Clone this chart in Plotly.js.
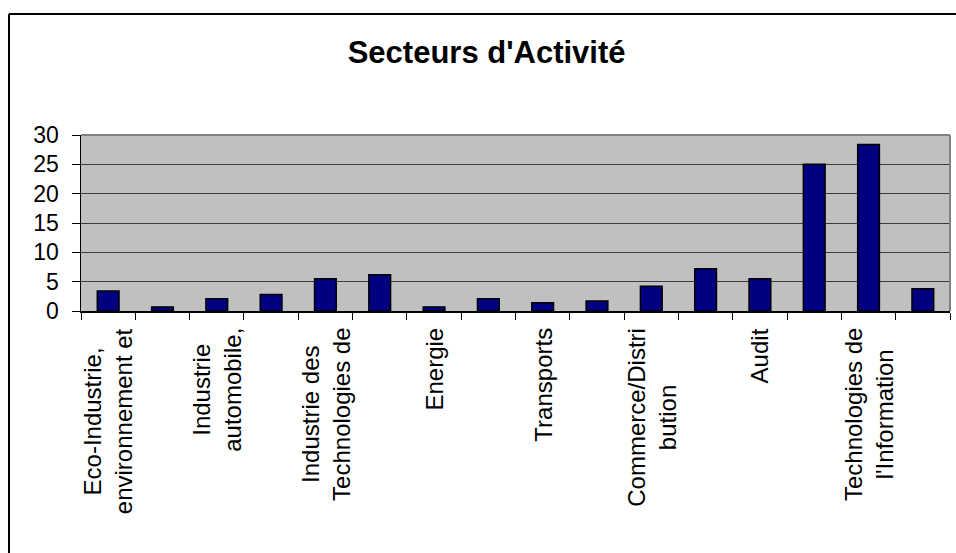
<!DOCTYPE html>
<html>
<head>
<meta charset="utf-8">
<script src="https://cdn.plot.ly/plotly-3.0.1.min.js"></script>
<style>html,body{margin:0;padding:0;background:#fff;}#chart{width:956px;height:553px;}</style>
</head>
<body>
<div id="chart"></div>
<script>
// Data
const chartTitle = "Secteurs d'Activité";
const tickLabels = [
  "Eco-Industrie,<br>environnement et", "",
  "Industrie<br>automobile,", "",
  "Industrie des<br>Technologies de", "",
  "Energie", "",
  "Transports", "",
  "Commerce/Distri<br>bution", "",
  "Audit", "",
  "Technologies de<br>l'Information", ""
];
const values = [3.4, 0.7, 2.1, 2.8, 5.5, 6.2, 0.7, 2.1, 1.4, 1.7, 4.2, 7.2, 5.5, 25.0, 28.4, 3.8];
const yTicks = [0, 5, 10, 15, 20, 25, 30];

const positions = values.map((v, i) => i);

const FONT = "'Liberation Sans', Arial, sans-serif";

const trace = {
  type: 'bar',
  x: positions,
  y: values,
  marker: {color: '#000080', line: {color: '#000000', width: 1.5}},
  hoverinfo: 'skip'
};

const annotations = [];
tickLabels.forEach((t, i) => {
  if (!t) return;
  annotations.push({
    x: positions[i], xref: 'x',
    y: 0, yref: 'paper',
    yshift: -16,
    text: t,
    textangle: -90,
    showarrow: false,
    xanchor: 'center', yanchor: 'top',
    align: 'center',
    borderpad: 0,
    font: {family: FONT, size: 24, color: '#000'}
  });
});

const layout = {
  width: 956, height: 553,
  margin: {l: 81, r: 6, t: 135, b: 242},
  paper_bgcolor: '#ffffff',
  plot_bgcolor: '#c0c0c0',
  showlegend: false,
  bargap: 0.6,
  title: {
    text: '<b>' + chartTitle + '</b>',
    font: {family: FONT, size: 31, color: '#000'},
    x: 0.509, xref: 'container', xanchor: 'center',
    y: 1 - 52 / 553, yref: 'container', yanchor: 'middle'
  },
  xaxis: {
    type: 'linear',
    range: [-0.5, values.length - 0.5],
    tick0: -0.5, dtick: 1,
    ticks: 'outside', ticklen: 7, tickcolor: '#000', tickwidth: 1,
    showticklabels: false,
    showgrid: false, zeroline: false,
    showline: true, linecolor: '#000', linewidth: 1.5
  },
  yaxis: {
    range: [0, 30],
    tickvals: yTicks,
    ticktext: yTicks.map(String),
    ticks: 'outside', ticklen: 8, tickcolor: '#000', tickwidth: 1,
    tickfont: {family: FONT, size: 23, color: '#000'},
    ticklabelstandoff: 8,
    showgrid: true, gridcolor: '#3c3c3c', gridwidth: 1,
    zeroline: false,
    showline: true, linecolor: '#000', linewidth: 1.5
  },
  annotations: annotations,
  shapes: [
    {type: 'line', xref: 'paper', yref: 'paper', x0: 0, x1: 1, y0: 1, y1: 1, line: {color: '#808080', width: 2}, layer: 'above'},
    {type: 'line', xref: 'paper', yref: 'paper', x0: 1, x1: 1, y0: 0, y1: 1, line: {color: '#808080', width: 2}, layer: 'above'},
    {type: 'line', xref: 'paper', yref: 'paper', x0: (9 - 81) / 869, x1: (9 - 81) / 869, y0: -3, y1: (311 - 14) / 176, line: {color: '#000', width: 2}, layer: 'above'},
    {type: 'line', xref: 'paper', yref: 'paper', x0: (9 - 81) / 869, x1: 1.2, y0: (311 - 14) / 176, y1: (311 - 14) / 176, line: {color: '#000', width: 2}, layer: 'above'}
  ]
};

Plotly.newPlot('chart', [trace], layout, {displayModeBar: false, staticPlot: true});
</script>
</body>
</html>
